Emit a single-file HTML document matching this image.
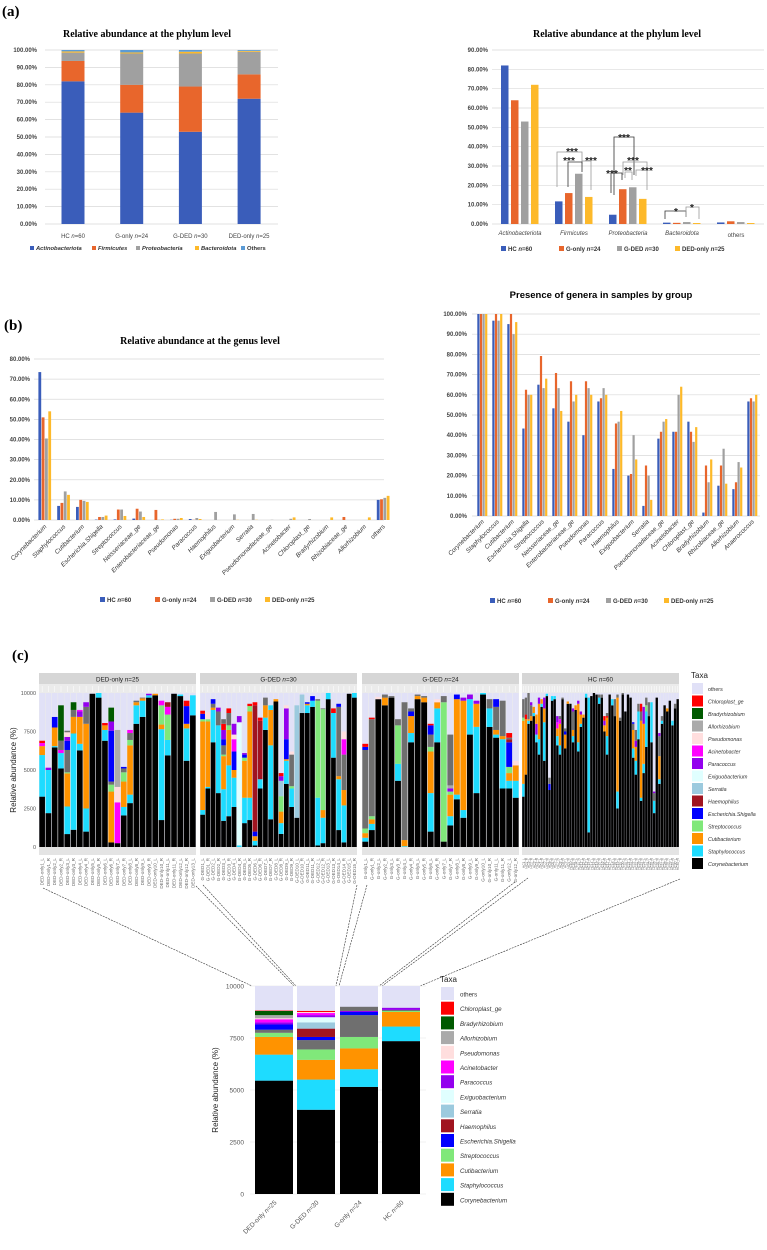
<!DOCTYPE html>
<html><head><meta charset="utf-8">
<style>
html,body{margin:0;padding:0;background:#fff;}
svg{display:block;font-family:"Liberation Sans",sans-serif;}
.serif{font-family:"Liberation Serif",serif;}
</style></head>
<body>
<svg id="fig" width="767" height="1250" viewBox="0 0 767 1250" xmlns="http://www.w3.org/2000/svg">
<rect x="0" y="0" width="767" height="1250" fill="#fff"/>
<text x="2" y="16" class="serif" font-size="15" font-weight="bold">(a)</text>
<text x="4" y="330" class="serif" font-size="15" font-weight="bold">(b)</text>
<text x="12" y="660" class="serif" font-size="15" font-weight="bold">(c)</text>
<text x="147" y="37" class="serif" font-size="10" font-weight="bold" text-anchor="middle">Relative abundance at the phylum level</text>
<text x="617" y="37" class="serif" font-size="10" font-weight="bold" text-anchor="middle">Relative abundance at the phylum level</text>
<text x="200" y="344" class="serif" font-size="10" font-weight="bold" text-anchor="middle">Relative abundance at the genus level</text>
<text x="601" y="298" font-size="9.5" font-weight="bold" text-anchor="middle">Presence of genera in samples by group</text>
<g id="g"></g>
</svg>
<script>
// ---------- data ----------
const groups = ["HC", "G-only", "G-DED", "DED-only"];
const groupN = ["60", "24", "30", "25"];
const phyla = ["Actinobacteriota", "Firmicutes", "Proteobacteria", "Bacteroidota", "Others"];
const actino = [82, 64, 53, 72];
const firmi = [11.7, 16, 26, 14];
const proteo = [4.8, 18, 19, 13];
const bactero = [0.7, 0.6, 1, 0.5];
const otherPhyla = [0.8, 1.4, 1, 0.5];
const phylaTicks = ["0.00%","10.00%","20.00%","30.00%","40.00%","50.00%","60.00%","70.00%","80.00%","90.00%","100.00%"];

const genusCats = ["Corynebacterium","Staphylococcus","Cutibacterium","Escherichia.Shigella","Streptococcus","Neisseriaceae_ge","Enterobacteriaceae_ge","Pseudomonas","Paracoccus","Haemophilus","Exiguobacterium","Serratia","Pseudomonadaceae_ge","Acinetobacter","Chloroplast_ge","Bradyrhizobium","Rhizobiaceae_ge","Allorhizobium","others"];
const genusHC = [73.5,7,6.5,0.2,0.3,0.7,0,0.1,0.5,0,0,0,0,0,0,0,0,0,10];
const genusGonly = [51,8.5,10,1.5,5.2,5.6,5,0.6,0.1,0,0,0,0,0,0,0,1.5,0,10.3];
const genusGDED = [40.5,14.2,9.5,1.5,5.2,4.2,0.1,0.6,1,4,2.8,3,0.1,0.6,0.5,0,0,0,11];
const genusDED = [54,12.5,9,2.2,2,1.5,0.3,1,0.5,0,0.1,0.1,0,1.3,0,1.3,0,1.3,12];

const presCats = ["Corynebacterium","Staphylococcus","Cutibacterium","Escherichia.Shigella","Streptococcus","Neisseriaceae_ge","Enterobacteriaceae_ge","Pseudomonas","Paracoccus","Haemophilus","Exiguobacterium","Serratia","Pseudomonadaceae_ge","Acinetobacter","Chloroplast_ge","Bradyrhizobium","Rhizobiaceae_ge","Allorhizobium","Anaerococcus"];
const presHC = [100,96.7,95,43.3,65,53.3,46.7,40,56.7,23.3,20,5,38.3,41.7,46.7,1.7,15,13.3,56.7];
const presGonly = [100,100,100,62.5,79.2,70.8,66.7,66.7,58.3,45.8,20.8,25,41.7,41.7,41.7,25,25,16.7,58.3];
const presGDED = [100,96.7,90,60,63.3,63.3,56.7,63.3,63.3,46.7,40,20,46.7,60,36.7,16.7,33.3,26.7,56.7];
const presDED = [100,100,96,60,68,52,60,60,60,52,28,8,48,64,44,28,16,24,60];

const taxa = ["Corynebacterium","Staphylococcus","Cutibacterium","Streptococcus","Escherichia.Shigella","Haemophilus","Serratia","Exiguobacterium","Paracoccus","Acinetobacter","Pseudomonas","Allorhizobium","Bradyrhizobium","Chloroplast_ge","others"];
const samplesDED = [
 [[0,3270],[1,5970],[2,6550],[9,6750],[13,6900]],
 [[0,2200],[1,5000],[8,5150]],
 [[0,6470],[1,6550],[2,7760],[4,8450],[14,8500]],
 [[0,5100],[1,6100],[9,6300],[15,6900],[12,9200]],
 [[0,840],[1,2630],[2,4780],[3,4850],[15,6300],[4,6900],[8,7150],[10,7450],[15,7550]],
 [[0,1120],[1,7370],[2,8450],[15,8900],[12,9400]],
 [[0,6270],[1,6700],[2,8450],[8,8800],[9,8900]],
 [[0,1000],[1,2500],[2,8000],[15,9100],[8,9400]],
 [[0,9950]],
 [[0,9700],[1,10000]],
 [[0,6900],[1,7600],[2,7900],[13,8050]],
 [[0,300],[2,3600],[3,4050],[15,4250],[4,7550],[8,8150],[12,9050]],
 [[0,250],[9,2900],[10,3900],[11,7600]],
 [[0,2050],[1,2600],[2,4250],[3,4850],[15,5100],[4,5200]],
 [[0,2850],[1,3400],[2,6600],[3,6950],[15,7400],[9,7600]],
 [[0,8000],[1,9200],[2,9400],[15,9500]],
 [[0,8450],[1,9500],[2,9650],[15,9700]],
 [[0,9700],[1,9850],[8,9950]],
 [[0,9850],[2,9950]],
 [[0,1750],[1,7650],[2,7950],[3,9200],[9,9500]],
 [[0,5950],[1,6950],[3,8600],[9,9100],[5,9400]],
 [[0,9950]],
 [[0,9800],[1,9900]],
 [[0,5600],[1,7700],[2,8000],[4,9150],[13,9500]],
 [[0,8550],[1,9850]]
];
const samplesGDED30 = [
 [[0,2100],[1,2400],[2,8150],[3,8300],[4,8650],[13,8850]],
 [[0,3800],[1,3900],[2,8150],[3,8300],[10,8750]],
 [[0,6800],[1,8900],[2,9050],[15,9300],[4,9600]],
 [[0,3500],[1,7900],[15,8800],[8,9050]],
 [[0,1700],[1,3750],[2,5900],[3,6000],[15,6600],[4,7000],[8,7600],[13,8000],[15,8300]],
 [[0,2000],[1,5300],[2,7600],[3,7900],[15,8700],[13,9000]],
 [[0,2600],[1,4500],[2,5000],[4,6200],[9,7000],[10,7300],[8,8000]],
 [[1,100],[7,8100],[8,8500]],
 [[0,1550],[1,3200],[2,5600],[3,5800],[4,6000],[8,6100]],
 [[0,1750],[1,3200],[2,8800],[3,9150],[13,9300]],
 [[0,100],[1,400],[2,700],[4,1000],[5,9200],[13,9400]],
 [[0,3800],[1,4400],[5,8200],[13,8400]],
 [[0,7600],[1,8400],[2,9200],[15,9700]],
 [[0,1800],[1,6600],[2,8900],[1,9200]],
 [[0,9450],[2,9600]],
 [[0,850],[1,1550],[2,2300],[3,3300],[6,4300],[8,4600],[13,4800]],
 [[0,4100],[1,5600],[2,5700],[4,7000],[8,9000],[10,9200]],
 [[0,2600],[1,3800],[3,3950],[15,6000],[10,6200]],
 [[0,1900],[6,9200]],
 [[0,8700],[6,9900]],
 [[0,8700],[1,9200],[2,9300],[4,9400]],
 [[0,9100],[1,9500],[4,9800]],
 [[0,100],[1,3200],[3,9500],[15,9600]],
 [[0,250],[1,1900],[2,2400],[3,8950],[15,9000]],
 [[0,9600],[1,10000]],
 [[0,5800],[1,8700],[13,9000]],
 [[0,1100],[1,4400],[2,4600],[15,9100],[4,9300]],
 [[0,300],[1,2700],[2,3700],[15,6000],[9,7000],[10,7500]],
 [[0,9950]],
 [[0,9700],[1,10000]]
];
const samplesGonly = [
 [[0,350],[1,600],[2,900],[3,1200],[15,6300],[4,6500],[13,6700]],
 [[0,1100],[1,1500],[2,1800],[3,2000],[15,8300],[13,8400]],
 [[0,9600],[10,9750]],
 [[0,9200],[2,9700],[15,9900]],
 [[0,9700],[15,9800]],
 [[0,4300],[1,5400],[3,7900],[15,8300]],
 [[1,50],[2,450],[15,9400]],
 [[0,6800],[1,7400],[2,8500],[4,8800],[15,9000]],
 [[0,9600],[2,9800],[15,9900]],
 [[0,9400],[2,9700],[15,9800]],
 [[0,1000],[1,3500],[2,6200],[3,6500],[15,7300],[4,7900],[13,8000]],
 [[0,6800],[1,9000],[2,9400],[10,9600]],
 [[0,350],[3,9400],[15,9800]],
 [[0,1400],[1,2000],[2,3400],[3,3600],[8,3800],[11,4000],[15,7300]],
 [[0,3100],[1,3400],[2,9600],[4,9900]],
 [[0,1900],[1,2400],[2,9500],[8,9700]],
 [[0,7300],[1,9600],[8,9900]],
 [[0,3500],[1,7800],[2,9300],[8,9500]],
 [[0,9900],[1,10000]],
 [[0,7800],[1,9000],[15,9600]],
 [[0,7100],[1,7300],[2,7600],[15,9100],[4,9600]],
 [[0,3800],[1,7000],[2,7200],[15,9500]],
 [[0,3800],[1,4300],[2,4800],[3,5200],[4,6800],[5,7000],[15,7100],[13,7400]],
 [[0,3200],[1,4300],[2,5300],[10,5600]]
];
const samplesHC = [
 [[0,3270],[1,4100],[2,8200],[3,8400],[15,9600]],
 [[0,4700],[2,8300],[13,8600],[15,9700]],
 [[0,8000],[1,8200],[2,8300],[15,10000]],
 [[0,8200],[2,8500],[15,9200],[8,9400]],
 [[0,8500],[1,8700],[2,9100]],
 [[0,6800],[1,7300],[8,8000],[2,8600]],
 [[0,6000],[1,7000],[2,9300],[8,9700]],
 [[0,9100],[1,9300],[2,9600]],
 [[0,5600],[1,8100],[2,9000],[8,9700]],
 [[0,9800],[1,9950]],
 [[0,3700],[4,4100],[15,4500]],
 [[0,9500],[1,9800]],
 [[0,9600],[1,9800]],
 [[0,6600],[1,7200],[2,7700],[9,8100],[8,8500]],
 [[0,6000],[1,6600],[2,8000],[9,8300],[15,8500]],
 [[0,9600],[15,9700]],
 [[0,6400],[2,7300],[4,7500],[15,7700]],
 [[0,9300],[2,9450]],
 [[0,9300]],
 [[0,6800],[1,7200],[2,7600],[15,8800],[8,9000]],
 [[0,8900],[2,9200]],
 [[0,6200],[1,6800],[2,9300],[8,9500]],
 [[0,7800],[1,8000],[2,8600],[8,8800]],
 [[0,8400],[2,8600]],
 [[0,9700],[1,9950]],
 [[0,950],[1,9700]],
 [[0,9800]],
 [[0,10000]],
 [[0,9900]],
 [[0,9300],[1,9700],[15,9900]],
 [[0,9700],[15,9900]],
 [[0,7500],[2,7900],[8,8200],[13,8500]],
 [[0,6000],[1,7200],[2,8400],[13,8500],[15,8700]],
 [[0,9900]],
 [[0,9200],[1,9600]],
 [[0,8500],[15,9600]],
 [[0,2500],[1,3600],[2,9700],[15,9900]],
 [[0,8200],[15,8400]],
 [[0,9900],[15,10000]],
 [[0,8800]],
 [[0,9900]],
 [[0,9700]],
 [[0,5800],[1,6400],[2,7600],[15,8000],[4,8100]],
 [[0,4700],[1,5600],[2,6500],[8,6900],[15,7600]],
 [[0,7000],[1,8800],[15,9300]],
 [[0,3000],[1,3200],[2,8200],[15,8800],[13,9300]],
 [[0,4800],[1,5400],[2,8000],[8,9100]],
 [[0,6500],[1,8800],[3,9200],[15,9700]],
 [[0,8500],[15,9400]],
 [[0,6800],[1,9400]],
 [[0,2200],[1,3000],[15,3500],[8,3600]],
 [[0,9700]],
 [[0,4100],[1,4400],[2,5900],[15,7200],[8,7400]],
 [[0,8000],[1,8200],[15,8500]],
 [[0,9200]],
 [[0,8800],[2,9000]],
 [[0,9500]],
 [[0,7900],[1,8200]],
 [[0,9000],[15,9300]],
 [[0,9600]]
];
const facetTitles = ["DED-only", "G-DED", "G-DED", "HC"];
const facetN = ["25", "30", "24", "60"];
const facetPrefix = ["DED-only", "G-DED", "G-only", "HC"];
const aggCats = ["DED-only n=25", "G-DED n=30", "G-only n=24", "HC n=60"];
const aggDED = [[0,5450],[1,6700],[2,7550],[3,7750],[15,7900],[4,8150],[8,8250],[9,8400],[10,8450],[11,8600],[12,8800],[13,8820]];
const aggGDED = [[0,4050],[1,5500],[2,6450],[3,6950],[15,7400],[4,7550],[5,7950],[6,8250],[7,8500],[8,8600],[9,8700],[10,8750],[13,8800]];
const aggGonly = [[0,5150],[1,6000],[2,7000],[3,7550],[15,8600],[4,8750],[8,8800],[15,9000]];
const aggHC = [[0,7350],[1,8050],[2,8750],[3,8800],[15,8850],[8,8950]];
const countTicks = [0, 2500, 5000, 7500, 10000];

// ---------- helpers ----------
const NS = "http://www.w3.org/2000/svg";
const root = document.getElementById('g');
function mk(tag, attrs, parent) {
  const e = document.createElementNS(NS, tag);
  for (const k in attrs) e.setAttribute(k, attrs[k]);
  (parent || root).appendChild(e);
  return e;
}
const barCol = ["#3A5DBA", "#E8662C", "#A0A0A0", "#FDB92A"];
const phylCol = ["#3A5DBA", "#E8662C", "#A0A0A0", "#FDB92A", "#5B9BD5"];
const taxCol = ["#000000","#1EDCFF","#FF9300","#80E87A","#0000FF","#A01420","#9CCADE","#E0FFFF","#9400EE","#FF00FF","#FFDEDE","#AAAAAA","#005A00","#FF0000","#E1E1F7","#6F6F6F"];

function groupLegend(x0, y, gap, prefix) {
  for (let j = 0; j < 4; j++) {
    const x = x0 + j * gap;
    const sw = mk('rect', {x: x, y: y - 5, width: 5, height: 5, fill: barCol[j]});
    
    
    const t = mk('text', {x: x + 7, y: y, 'font-size': 6, 'font-weight': 'bold', fill: '#333'});
    
    
    t.innerHTML = groups[j] + ' <tspan font-style="italic">n</tspan>=' + groupN[j];
  }
}
function yAxis(prefix, ticks, yOf, xLab, x1, x2, step) {
  ticks.forEach((lab, i) => {
    const y = yOf(i * step);
    const gl = mk('line', {x1: x1, x2: x2, y1: y, y2: y, stroke: '#D9D9D9', 'stroke-width': 0.7});
    
    
    const t = mk('text', {x: xLab, y: y + 2, 'font-size': 6, 'font-weight': 'bold', 'text-anchor': 'end', fill: '#444'});
    
    
    t.textContent = lab;
  });
}

// ---------- (a) left stacked ----------
(function () {
  const yOf = v => 224 - v / 100 * 174;
  yAxis('phylum-stacked', phylaTicks, yOf, 37, 45, 278, 10);
  const series = [actino, firmi, proteo, bactero, otherPhyla];
  for (let g = 0; g < 4; g++) {
    const cx = 73 + g * 58.7;
    let cum = 0;
    for (let s = 0; s < 5; s++) {
      const v = series[s][g];
      const r = mk('rect', {x: cx - 11.5, y: yOf(cum + v), width: 23, height: Math.max(0, yOf(cum) - yOf(cum + v)), fill: phylCol[s]});
      
      
      cum += v;
    }
    const t = mk('text', {x: cx, y: 238, 'font-size': 6, 'text-anchor': 'middle', fill: '#444'});
    
    
    t.innerHTML = groups[g] + ' <tspan font-style="italic">n</tspan>=' + groupN[g];
  }
  const lx = [30, 92, 136, 195, 241];
  for (let s = 0; s < 5; s++) {
    const sw = mk('rect', {x: lx[s], y: 246, width: 4, height: 4, fill: phylCol[s]});
    
    
    const t = mk('text', {x: lx[s] + 6, y: 250, 'font-size': 5.8, 'font-weight': 'bold', 'font-style': s < 4 ? 'italic' : 'normal', fill: '#333'});
    
    
    t.textContent = phyla[s];
  }
})();

// ---------- (a) right grouped ----------
(function () {
  const yOf = v => 224 - v / 90 * 174;
  const ticks = ["0.00%","10.00%","20.00%","30.00%","40.00%","50.00%","60.00%","70.00%","80.00%","90.00%"];
  yAxis('phylum-grouped', ticks, yOf, 488, 492, 764, 10);
  const series = [actino, firmi, proteo, bactero, otherPhyla];
  const catLab = ["Actinobacteriota", "Firmicutes", "Proteobacteria", "Bacteroidota", "others"];
  for (let c = 0; c < 5; c++) {
    const cx = 520 + c * 54;
    for (let g = 0; g < 4; g++) {
      const v = series[c][g];
      const r = mk('rect', {x: cx - 19 + g * 10, y: yOf(v), width: 7.5, height: yOf(0) - yOf(v), fill: barCol[g]});
      
      
    }
    const t = mk('text', {x: cx, y: c === 4 ? 237 : 235, 'font-size': 6, 'text-anchor': 'middle', 'font-style': c < 4 ? 'italic' : 'normal', fill: '#444'});
    
    
    t.textContent = catLab[c];
  }
  groupLegend(501, 251, 58, 'phylum-grouped');
  const br = [
    ["M557,187V152H582V164", "#999", 572, 150],
    ["M568,187V162H582V172", "#333", 569, 159],
    ["M582,161H591V190", "#999", 591, 159],
    ["M614,195V137H634V175", "#333", 624, 136],
    ["M611,193V173H622V180", "#333", 612, 172],
    ["M623,175V162H647V190", "#999", 633, 159],
    ["M625,178V172H632V180", "#999", 628, 169],
    ["M636,176V170H647", "#999", 647, 169],
    ["M665,219V211H686V217", "#333", 676, 210],
    ["M686,217V207H699V219", "#999", 692, 206]
  ];
  br.forEach((b, i) => {
    const p = mk('path', {d: b[0], fill: 'none', stroke: b[1], 'stroke-width': 0.8});
    
    
    const t = mk('text', {x: b[2], y: b[3] + 5, 'font-size': 10, 'font-weight': 'bold', 'text-anchor': 'middle', fill: '#222'});
    
    
    t.textContent = i >= 8 ? '*' : (i === 6 ? '**' : '***');
  });
})();

// ---------- (b) genus grouped ----------
function genusChart(prefix, cats, series, yOf, maxV, step, ticks, x0, dx, bw, xLab, gx1, gx2, labY) {
  yAxis(prefix, ticks, yOf, xLab, gx1, gx2, step);
  cats.forEach((c, i) => {
    const cx = x0 + i * dx;
    for (let g = 0; g < 4; g++) {
      const v = series[g][i];
      const r = mk('rect', {x: cx - 2 * bw + g * bw, y: yOf(v), width: bw * 0.85, height: Math.max(0, yOf(0) - yOf(v)), fill: barCol[g]});
      
      
    }
    const t = mk('text', {x: cx + 2, y: labY, 'font-size': 6.3, 'text-anchor': 'end', 'font-style': c === 'others' ? 'normal' : 'italic', fill: '#333', transform: 'rotate(-45 ' + (cx + 2) + ' ' + labY + ')'});
    
    
    t.textContent = c;
  });
}
genusChart('genus', genusCats, [genusHC, genusGonly, genusGDED, genusDED], v => 520 - v / 80 * 161, 80, 10,
  ["0.00%","10.00%","20.00%","30.00%","40.00%","50.00%","60.00%","70.00%","80.00%"], 45, 18.8, 3.3, 30, 34, 384, 527);
groupLegend(100, 602, 55, 'genus');
genusChart('presence', presCats, [presHC, presGonly, presGDED, presDED], v => 516 - v / 100 * 202, 100, 10,
  ["0.00%","10.00%","20.00%","30.00%","40.00%","50.00%","60.00%","70.00%","80.00%","90.00%","100.00%"], 482.5, 15, 2.6, 467, 472, 760, 522);
groupLegend(490, 603, 58, 'presence');

// ---------- (c) per-sample facets ----------
(function () {
  const yOf = v => 847 - v / 10000 * 154;
  const facX = [39, 200, 362, 522];
  const facW = 157;
  const facData = [samplesDED, samplesGDED30, samplesGonly, samplesHC];
  const yl = mk('text', {x: 16, y: 770, 'font-size': 8, 'text-anchor': 'middle', fill: '#222', transform: 'rotate(-90 16 770)'});
  
  
  yl.textContent = 'Relative abundance (%)';
  countTicks.forEach(v => {
    const t = mk('text', {x: 36, y: yOf(v) + 2, 'font-size': 5.5, 'text-anchor': 'end', fill: '#555'});
    
    
    t.textContent = v;
  });
  for (let f = 0; f < 4; f++) {
    const x0 = facX[f];
    const strip = mk('rect', {x: x0, y: 673, width: facW, height: 11, fill: '#D6D6D6'});
    
    
    const st = mk('text', {x: x0 + facW / 2, y: 681.5, 'font-size': 6.3, 'text-anchor': 'middle', fill: '#222'});
    
    
    st.innerHTML = facetTitles[f] + ' <tspan font-style="italic">n</tspan>=' + facetN[f];
    const top = mk('rect', {x: x0, y: 684, width: facW, height: 9, fill: '#EBEBEB'});
    
    
    const bot = mk('rect', {x: x0, y: 847, width: facW, height: 8, fill: '#E4E4E4'});
    
    
    const bg = mk('rect', {x: x0, y: 693, width: facW, height: 154, fill: '#EBEBEB'});
    
    
    const data = facData[f];
    const n = data.length;
    const slot = facW / n;
    data.forEach((segs, i) => {
      const bx = x0 + i * slot + slot * 0.05;
      const bwid = slot * 0.9;
      const o = mk('rect', {x: bx, y: yOf(10000), width: bwid, height: 154, fill: taxCol[14]});
      
      
      let prev = 0;
      segs.forEach(s => {
        const r = mk('rect', {x: bx, y: yOf(s[1]), width: bwid, height: Math.max(0, yOf(prev) - yOf(s[1])), fill: taxCol[s[0]]});
        
        
        prev = s[1];
      });
      const tk = mk('line', {x1: bx + bwid / 2, x2: bx + bwid / 2, y1: 686, y2: 692, stroke: '#fff', 'stroke-width': 0.5});
      
      
      const lx = bx + bwid / 2 + 1.5;
      const lab = mk('text', {x: lx, y: 858, 'font-size': f === 3 ? 3.2 : 4.6, 'text-anchor': 'end', fill: '#666', transform: 'rotate(-90 ' + lx + ' 858)'});
      
      
      lab.textContent = facetPrefix[f] + (Math.floor(i / 2) + 1) + (i % 2 ? '_R' : '_L');
    });
  }
  const tt = mk('text', {x: 691, y: 678, 'font-size': 8, fill: '#222'});
  
  
  tt.textContent = 'Taxa';
  for (let k = 0; k < 15; k++) {
    const ti = 14 - k;
    const y = 683 + k * 12.5;
    const sw = mk('rect', {x: 692, y: y, width: 11, height: 11, fill: taxCol[ti]});
    
    
    const t = mk('text', {x: 708, y: y + 8, 'font-size': 5.3, 'font-style': ti === 14 ? 'normal' : 'italic', fill: '#333'});
    
    
    t.textContent = taxa[ti];
  }
})();

// ---------- connector lines ----------
const connectors = [[43,888,252,986],[196,886,294,986],[203,885,296,986],[357,885,336,986],[367,885,339,986],[515,882,379,986],[528,878,382,986],[680,879,420,986]];
connectors.forEach(c => {
  const l = mk('line', {x1: c[0], y1: c[1], x2: c[2], y2: c[3], stroke: '#333', 'stroke-width': 0.6, 'stroke-dasharray': '2,1'});
  
  
});

// ---------- (c) aggregated ----------
(function () {
  const yOf = v => 1194 - v / 10000 * 208;
  const aggData = [aggDED, aggGDED, aggGonly, aggHC];
  const bx = [255, 297, 340, 382];
  countTicks.forEach(v => {
    const gl = mk('line', {x1: 250, x2: 426, y1: yOf(v), y2: yOf(v), stroke: '#EEEEEE', 'stroke-width': 0.8});
    
    
    const t = mk('text', {x: 244, y: yOf(v) + 2.5, 'font-size': 6.5, 'text-anchor': 'end', fill: '#555'});
    
    
    t.textContent = v;
  });
  const yl = mk('text', {x: 218, y: 1090, 'font-size': 8, 'text-anchor': 'middle', fill: '#222', transform: 'rotate(-90 218 1090)'});
  
  
  yl.textContent = 'Relative abundance (%)';
  aggData.forEach((segs, g) => {
    const o = mk('rect', {x: bx[g], y: yOf(10000), width: 38, height: 208, fill: taxCol[14]});
    
    
    let prev = 0;
    segs.forEach(s => {
      const r = mk('rect', {x: bx[g], y: yOf(s[1]), width: 38, height: Math.max(0, yOf(prev) - yOf(s[1])), fill: taxCol[s[0]]});
      
      
      prev = s[1];
    });
    const cx = bx[g] + 22;
    const t = mk('text', {x: cx, y: 1203, 'font-size': 6.5, 'text-anchor': 'end', fill: '#555', transform: 'rotate(-45 ' + cx + ' 1203)'});
    
    
    const parts = aggCats[g].split(' n=');
    t.innerHTML = parts[0] + ' <tspan font-style="italic">n</tspan>=' + parts[1];
  });
  const tt = mk('text', {x: 440, y: 982, 'font-size': 8, fill: '#222'});
  
  
  tt.textContent = 'Taxa';
  for (let k = 0; k < 15; k++) {
    const ti = 14 - k;
    const y = 987 + k * 14.7;
    const sw = mk('rect', {x: 441, y: y, width: 13, height: 13, fill: taxCol[ti]});
    
    
    const t = mk('text', {x: 460, y: y + 9.5, 'font-size': 6.2, 'font-style': ti === 14 ? 'normal' : 'italic', fill: '#333'});
    
    
    t.textContent = taxa[ti];
  }
})();
</script>
</body></html>
